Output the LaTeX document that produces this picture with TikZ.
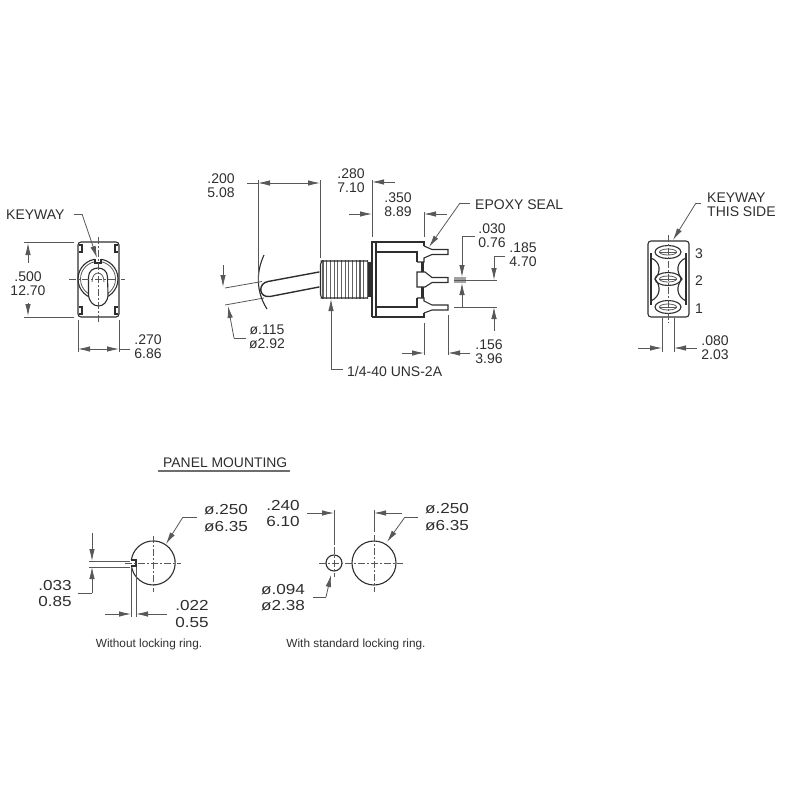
\documentclass[tikz,border=0pt]{standalone}
\usepackage{fontspec}
\setmainfont{Liberation Sans}
\newfontfamily\widefont[FakeStretch=1.18]{Liberation Sans}
\usetikzlibrary{arrows.meta}
\definecolor{ink}{HTML}{2E2E2E}
\tikzset{
  lbl/.style={inner sep=0pt,align=center,text=ink,font=\fontsize{14}{14.2}\selectfont},
  lblleft/.style={lbl,align=left,anchor=west},
  lblwide/.style={inner sep=0pt,align=center,text=ink,font=\widefont\fontsize{14.5}{16.5}\selectfont},
  capt/.style={inner sep=0pt,text=ink,font=\fontsize{11.8}{13}\selectfont},
  ln/.style={draw=ink!80,line width=0.8pt},
  obj/.style={draw=ink,line width=1.1pt},
  thick obj/.style={draw=ink,line width=1.4pt},
  ctr/.style={draw=ink!80,line width=0.7pt,dash pattern=on 7pt off 2pt on 2pt off 2pt},
  arr/.style={ln,-{Latex[length=12pt,width=5.5pt]}}
}
\begin{document}
\begin{tikzpicture}[x=1pt,y=-1pt]
\useasboundingbox (0,0) rectangle (800,800);

%% ---------- left view
\draw[obj,rounded corners=3pt] (78,242) rectangle (119,317);
\draw[obj] (79,245) -- (82,245) -- (82,252) -- (79,252);
\draw[obj] (118,245) -- (115,245) -- (115,252) -- (118,252);
\draw[obj] (79,314) -- (82,314) -- (82,307) -- (79,307);
\draw[obj] (118,314) -- (115,314) -- (115,307) -- (118,307);
\draw[obj] (98,279) circle (20);
\draw[ln] (98,279) circle (17.5);
\fill[white] (95,258) rectangle (101,264);
\draw[obj] (95,259) -- (95,263) -- (101,263) -- (101,259);
\draw[obj,fill=white] (88.5,277) .. controls (88.5,265) and (107.5,265) .. (107.5,277) -- (108,294) .. controls (108,310) and (89,310) .. (88.5,294) -- cycle;
\draw[ln] (92,282) .. controls (92,270) and (104,270) .. (104,282);
\draw[ctr] (69,279) -- (125,279);
\draw[ctr] (98,237) -- (98,323);
\node[lbl,anchor=west] (kw) at (6,215) {KEYWAY};
\draw[ln] (74,214) -- (82,214);
\draw[arr] (82,214) -- (97,258);
\draw[ln] (24,242) -- (74,242) (24,317) -- (74,317);
\draw[arr] (28,263) -- (28,243);
\draw[arr] (28,303) -- (28,316);
\node[lbl] (d500) at (28,283.5) {.500\\12.70};
\draw[ln] (78,320) -- (78,352) (119,320) -- (119,352);
\draw[arr] (98,349) -- (78,349);
\draw[arr] (98,349) -- (119,349);
\draw[ln] (119,349) -- (130,349);
\node[lbl] (d270) at (148,347) {.270\\6.86};

%% ---------- side view: lever
\draw[ln] (225,288) -- (262,281.5);
\draw[ln] (225,305) -- (264,298);
\draw[thick obj,line cap=round] (319,272) -- (268,281.5) .. controls (258,283) and (258,298) .. (270,296.5) -- (319,287);
\draw[obj] (264,255) .. controls (256,272) and (256,292) .. (267,309);
\draw[ln] (258,180) -- (258,283);
\draw[ln] (320,180) -- (320,258);
\draw[ln] (247,183) -- (258,183);
\draw[arr] (272,183) -- (258,183);
\draw[ln] (272,183) -- (308,183);
\draw[arr] (308,183) -- (320,183);
\node[lbl] (d200) at (221,186) {.200\\5.08};
\draw[arr] (223,265) -- (223,287);
\draw[arr] (234,338) -- (228,306);
\draw[ln] (246,338) -- (234,338);
\node[lbl] (d115) at (267,337) {ø.115\\ø2.92};

%% bushing
\fill[white] (320,261) rectangle (372,298);
\foreach \tx in {323,326.7,...,368} {\draw[draw=ink!75,line width=1.1pt] (\tx,260.2) -- (\tx,298.8);}
\draw[obj,rounded corners=1.5pt] (320.5,261) -- (368,261) (320.5,298) -- (368,298) (322,261) -- (320.5,263) -- (320.5,296) -- (322,298);
\fill[ink] (368,262) rectangle (372,297);
\draw[arr] (331,369) -- (331,299);
\draw[ln] (331,369) -- (343,369);
\node[lblleft] (thread) at (347,371) {1/4-40 UNS-2A};

%% body
\draw[obj] (372,317) -- (372,242) -- (424,242) -- (424,246);
\draw[obj] (372,317) -- (424,317) -- (424,313);
\draw[obj] (376,242) -- (376,317);
\draw[obj] (376,252) -- (417,252) -- (417,262);
\draw[obj] (376,307) -- (417,307) -- (417,298);
%% top terminal
\draw[obj] (424,246) -- (432,249.5) -- (448,249.5) -- (448,254.5) -- (432,254.5) -- (424,258) -- (424,262) -- (417,262);
\fill[ink] (420.5,262) rectangle (424,272);
%% middle terminal
\draw[obj,fill=white] (417,272) -- (425,272) -- (432,277.5) -- (448,277.5) -- (448,282.5) -- (432,282.5) -- (425,287) -- (417,287) -- cycle;
\fill[ink] (420.5,287) rectangle (424,298);
%% bottom terminal
\draw[obj] (424,313) -- (432,310) -- (448,310) -- (448,305) -- (432,305) -- (424,301) -- (424,298) -- (417,298);

%% side dims
\draw[ln] (372,180) -- (372,237);
\draw[arr] (395,182) -- (372,182);
\draw[arr] (349,214) -- (372,214);
\node[lbl] (d280) at (351,181) {.280\\7.10};
\draw[ln] (424,212) -- (424,237);
\draw[arr] (447,214) -- (424,214);
\node[lbl] (d350) at (398,205) {.350\\8.89};
\draw[ln] (424,323) -- (424,355) (448,315) -- (448,355);
\draw[arr] (402,353) -- (424,353);
\draw[arr] (470,353) -- (448,353);
\node[lbl] (d156) at (489,352) {.156\\3.96};
\node[lblleft] (epoxy) at (475,205) {EPOXY SEAL};
\draw[ln] (470,203) -- (460,203);
\draw[arr] (460,203) -- (429,247);
\fill[ink!45] (454,277) rectangle (466,283);
\draw[ln] (454,280) -- (497,280) (454,307) -- (497,307);
\draw[ln] (505,256) -- (494,256);
\draw[arr] (494,256) -- (494,280);
\draw[arr] (494,331) -- (494,307);
\draw[ln] (475,236) -- (462,236);
\draw[arr] (462,236) -- (462,277);
\draw[arr] (462,307) -- (462,283);
\node[lbl] (d030) at (492,235.5) {.030\\0.76};
\node[lbl] (d185) at (523,255) {.185\\4.70};

%% ---------- right view
\draw[obj,rounded corners=3pt] (648,241) rectangle (689,317);
\foreach \ey in {252,279,307}{
  \draw[obj] (668,\ey) ellipse [x radius=13,y radius=6.5];
  \draw[ln] (668,\ey) ellipse [x radius=8.5,y radius=3];
  \draw[ln] (659,\ey) -- (677,\ey);
}
\draw[obj] (651,253) -- (651,305) (686,253) -- (686,305);
\draw[obj] (651,258) .. controls (661,262) and (661,272) .. (655,279) .. controls (661,286) and (661,296) .. (651,301);
\draw[obj] (686,258) .. controls (676,262) and (676,272) .. (682,279) .. controls (676,286) and (676,296) .. (686,301);
\draw[ctr] (668,235) -- (668,323);
\node[lbl] (p3) at (699,254) {3};
\node[lbl] (p2) at (699,281) {2};
\node[lbl] (p1) at (699,309) {1};
\node[lblleft] (kw2) at (707,204.5) {KEYWAY\\THIS SIDE};
\draw[ln] (701,203) -- (696,203);
\draw[arr] (696,203) -- (673,240);
\draw[ln] (662,318) -- (662,352) (674,318) -- (674,352);
\draw[arr] (638,348) -- (662,348);
\draw[arr] (697,348) -- (674,348);
\node[lbl] (d080) at (715,348) {.080\\2.03};

%% ---------- panel mounting
\node[inner sep=0pt,anchor=west,text=ink,font=\fontsize{13.9}{14}\selectfont] (pm) at (163,462.5) {PANEL MOUNTING};
\draw[draw=ink!70,line width=2pt] (158,471) -- (290,471);

%% hole without ring
\draw[obj] (131.4,560) -- (136,560) -- (136,566) -- (131.4,566);
\draw[obj] (131.4,566) arc[start angle=172,end angle=-172,radius=22];
\draw[ctr] (125,563) -- (181,563);
\draw[ctr] (153,536) -- (153,592);
\draw[ln] (89,561) -- (130,561) (89,567) -- (130,567);
\draw[arr] (92,533) -- (92,561);
\draw[arr] (92,593) -- (92,567);
\draw[ln] (92,593) -- (78,593);
\node[lblwide] (d033) at (55,593.5) {.033\\0.85};
\draw[ln] (131,567) -- (131,617) (136,567) -- (136,617);
\draw[arr] (105,614) -- (131,614);
\draw[arr] (167,614) -- (136,614);
\node[lblwide] (d022) at (192,614) {.022\\0.55};
\node[lblwide] (d250a) at (226,518) {ø.250\\ø6.35};
\draw[ln] (197,517) -- (183,517);
\draw[arr] (183,517) -- (166,544);
\node[capt] (cap1) at (149,644.5) {Without locking ring.};

%% holes with ring
\draw[obj] (334,563) circle (8);
\draw[obj] (374,563) circle (22);
\draw[ctr] (319,563) -- (403,563);
\draw[ln] (334,510) -- (334,545);
\draw[ctr] (334,547) -- (334,577);
\draw[ln] (374,510) -- (374,532);
\draw[ctr] (374,535) -- (374,592);
\draw[arr] (307,513) -- (334,513);
\draw[arr] (402,513) -- (374,513);
\node[lblwide] (d240) at (283,513.5) {.240\\6.10};
\node[lblwide] (d250b) at (447,517) {ø.250\\ø6.35};
\draw[ln] (418,517) -- (405,517);
\draw[arr] (405,517) -- (387,542);
\node[lblwide] (d094) at (283,597.5) {ø.094\\ø2.38};
\draw[ln] (313,597) -- (326,597);
\draw[arr] (326,597) -- (331,575);
\node[capt] (cap2) at (356,644.5) {With standard locking ring.};
\end{tikzpicture}
\end{document}
